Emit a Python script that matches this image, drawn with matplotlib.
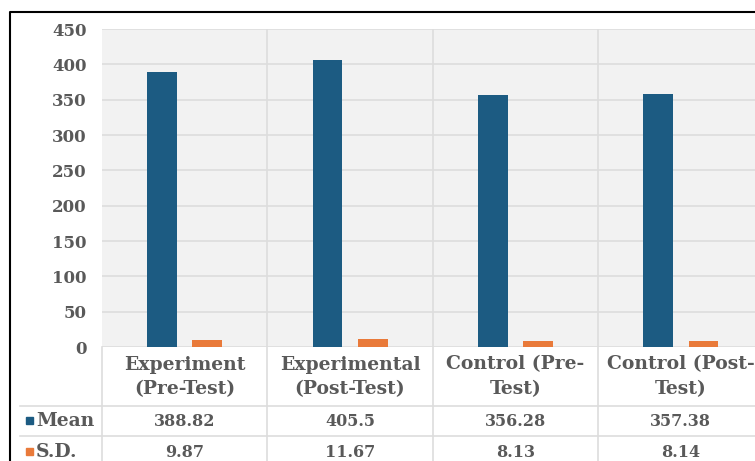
import numpy as np
import matplotlib
matplotlib.use("Agg")
import matplotlib.pyplot as plt
from matplotlib.patches import Rectangle
from matplotlib.lines import Line2D
from matplotlib.transforms import blended_transform_factory

# data
categories = ["Experiment\n(Pre-Test)", "Experimental\n(Post-Test)",
              "Control (Pre-\nTest)", "Control (Post-\nTest)"]
series_names = ["Mean", "S.D."]
mean_vals = [388.82, 405.5, 356.28, 357.38]
sd_vals = [9.87, 11.67, 8.13, 8.14]
y_ticks = [0, 50, 100, 150, 200, 250, 300, 350, 400, 450]

# styling
W, H = 755, 461
c_mean = '#1c5b82'
c_sd = '#e97a3a'
c_text = '#595959'
c_grid = '#dddddd'
font = dict(family='DejaVu Serif', weight='bold', color=c_text)

def fx(px):  # pixel -> figure fraction
    return px / W

def fy(py):
    return 1 - py / H

fig = plt.figure(figsize=(W / 100, H / 100), dpi=100)

# plot area (last category runs past the right edge)
x0, x1, y0, y1 = 102, 763.5, 347, 29
ax = fig.add_axes([fx(x0), fy(y0), fx(x1 - x0), fy(y1) - fy(y0)])
ax.set_facecolor('#f2f2f2')

x = np.arange(len(categories))
bw = 0.18
off = 0.137
ax.bar(x - off, mean_vals, bw, color=c_mean, zorder=3)
ax.bar(x + off, sd_vals, bw, color=c_sd, zorder=3)

ax.set_xlim(-0.5, len(categories) - 0.5)
ax.set_ylim(0, 450)
ax.set_yticks(y_ticks)
ax.set_yticklabels([str(v) for v in y_ticks], fontsize=12, **font)
ax.tick_params(axis='y', length=0, pad=11)
ax.set_xticks([])
ax.grid(axis='y', color=c_grid, lw=1.2, zorder=0)
for b in x[:-1] + 0.5:
    ax.axvline(b, color=c_grid, lw=1.2, zorder=0)
for s in ax.spines.values():
    s.set_visible(False)

# data table under the chart
bt = blended_transform_factory(ax.transData, fig.transFigure)
for i, lab in enumerate(categories):
    ax.text(i, fy(377), lab, transform=bt, ha='center', va='center',
            fontsize=13.5, linespacing=1.5, **font)
    ax.text(i, fy(421), str(mean_vals[i]), transform=bt, ha='center',
            va='center', fontsize=11.5, **font)
    ax.text(i, fy(452), str(sd_vals[i]), transform=bt, ha='center',
            va='center', fontsize=11.5, **font)

for b in np.arange(-0.5, len(categories), 1.0):
    fig.add_artist(Line2D([b, b], [fy(y0), 0], transform=bt,
                          color=c_grid, lw=1.2))
for yy in (406, 436):
    fig.add_artist(Line2D([fx(20), 1], [fy(yy), fy(yy)], color=c_grid, lw=1.2))

# legend keys in the first column
for yy, name, col in ((421, series_names[0], c_mean), (452, series_names[1], c_sd)):
    fig.add_artist(Rectangle((fx(26), fy(yy + 3)), fx(7), fy(0) - fy(7),
                             color=col, transform=fig.transFigure))
    fig.text(fx(36), fy(yy), name, ha='left', va='center', fontsize=13.5, **font)

# outer frame
fig.add_artist(Line2D([fx(10), fx(10), 1], [0, fy(12), fy(12)],
                      color='black', lw=1.5))

fig.savefig('out.png', dpi=100, facecolor='white')
